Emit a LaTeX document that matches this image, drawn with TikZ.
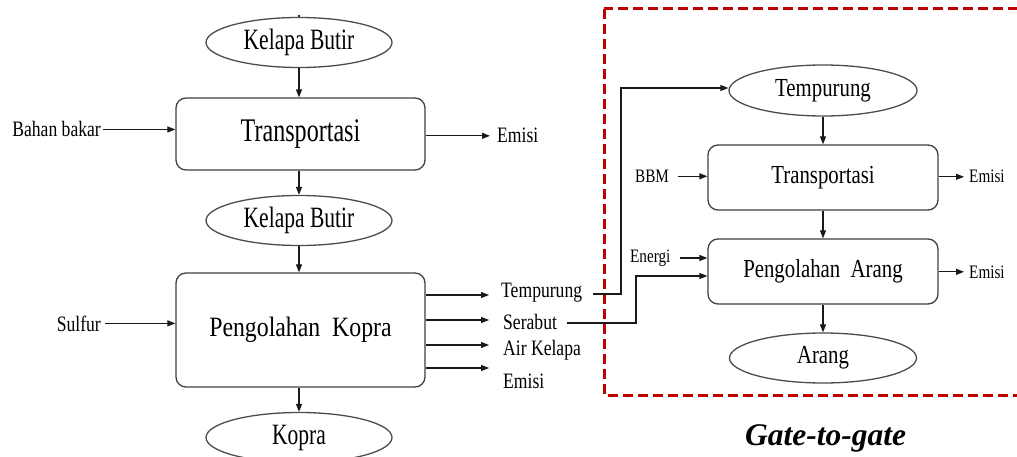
\documentclass[tikz,border=0pt]{standalone}
\usepackage{fontspec}
\setmainfont{Liberation Serif}
\newfontfamily\fA[FakeStretch=0.73]{Liberation Serif}
\newfontfamily\fB[FakeStretch=0.8]{Liberation Serif}
\newfontfamily\fC[FakeStretch=0.85]{Liberation Serif}
\usetikzlibrary{shapes.geometric,arrows.meta,calc}
\definecolor{gatered}{HTML}{C00000}
\tikzset{
  line/.style={draw=black!90, line width=1.2pt},
  arr/.style={line, -{Triangle[length=8pt,width=6pt]}},
  oval/.style={ellipse, draw=black!70, line width=1.3pt, inner sep=0pt,
    minimum width=186pt, minimum height=50pt, text=black},
  proc/.style={rectangle, rounded corners=10pt, draw=black!75, line width=1.3pt,
    inner sep=0pt, text=black},
  bigA/.style={font=\fA\fontsize{29.5}{31}\selectfont},
  bigT/.style={font=\fA\fontsize{33}{35}\selectfont},
  bigP/.style={font=\fC\fontsize{28}{30}\selectfont},
  rbig/.style={font=\fB\fontsize{26}{28}\selectfont},
  lbl/.style={inner sep=0pt, text=black, font=\fB\fontsize{22}{24}\selectfont},
  slbl/.style={inner sep=0pt, text=black, font=\fB\fontsize{19}{21}\selectfont},
}
\begin{document}
\begin{tikzpicture}[x=1pt,y=-1pt]
\clip (0,0) rectangle (1017,457);
\fill[white] (0,0) rectangle (1017,457);

% ---------- left column ----------
\fill[black!85] (299,16) circle (1.3pt);
\node[oval, bigA] (e1) at (299,42.5) {Kelapa Butir};
\node[proc, bigT, minimum width=249pt, minimum height=72pt] (b1) at (300.5,134) {Transportasi};
\node[oval, bigA] (e2) at (299,220.5) {Kelapa Butir};
\node[proc, bigP, minimum width=249pt, minimum height=114pt] (b2) at (300.5,330) {Pengolahan\ \ Kopra};
\node[oval, bigA] (e3) at (299,437.5) {Kopra};

\draw[arr] (e1.south) -- (e1.south |- b1.north);
\draw[arr] (e1.south |- b1.south) -- (e2.north);
\draw[arr] (e2.south) -- (e2.south |- b2.north);
\draw[arr] (e2.south |- b2.south) -- (e3.north);

\node[lbl, anchor=base east] (bb) at (101,137) {Bahan bakar};
\draw[arr] ([xshift=2pt]bb.east) -- (bb.east -| b1.west);
\node[lbl, anchor=base west] (em1) at (497,143) {Emisi};
\draw[arr] (b1.east |- em1.west) -- ([xshift=-7pt]em1.west);

\node[lbl, anchor=base east] (su) at (101,331) {Sulfur};
\draw[arr] ([xshift=4pt]su.east) -- (su.east -| b2.west);

\node[lbl, anchor=base west] (o1) at (501,297) {Tempurung};
\node[lbl, anchor=base west] (o2) at (503,329) {Serabut};
\node[lbl, anchor=base west] (o3) at (503,355) {Air Kelapa};
\node[lbl, anchor=base west] (o4) at (503,388) {Emisi};
\coordinate (t1) at (489,295);
\coordinate (t2) at (489,320);
\coordinate (t3) at (489,345);
\coordinate (t4) at (489,368);
\draw[arr] (b2.east |- t1) -- (t1);
\draw[arr] (b2.east |- t2) -- (t2);
\draw[arr] (b2.east |- t3) -- (t3);
\draw[arr] (b2.east |- t4) -- (t4);

% ---------- gate-to-gate ----------
\draw[gatered, line width=3pt, dash pattern=on 10pt off 5pt] (604,9) rectangle (1040,395);

\node[oval, rbig, minimum width=188pt, minimum height=51pt] (tp) at (823,90.5) {Tempurung};
\node[proc, rbig, minimum width=230pt, minimum height=65pt] (b3) at (823,177.5) {Transportasi};
\node[proc, rbig, minimum width=230pt, minimum height=65pt] (b4) at (823,271.5) {Pengolahan\ \ Arang};
\node[oval, rbig, minimum width=187pt, minimum height=50pt] (ar) at (823,358) {Arang};

\draw[arr] (tp.south) -- (b3.north);
\draw[arr] (b3.south) -- (b4.north);
\draw[arr] (b4.south) -- (ar.north);

\node[slbl, anchor=base west] (bbm) at (635,182.5) {BBM};
\draw[arr] ([xshift=9pt]bbm.east) -- (bbm.east -| b3.west);
\node[slbl, anchor=base west] (en) at (630,262) {Energi};
\coordinate (enx) at (680,258);
\draw[arr] (enx) -- (enx -| b4.west);

\node[slbl, anchor=base west] (em3) at (969,183) {Emisi};
\draw[arr] (b3.east |- em3.west) -- ([xshift=-5pt]em3.west);
\node[slbl, anchor=base west] (em4) at (969,278) {Emisi};
\draw[arr] (b4.east |- em4.west) -- ([xshift=-5pt]em4.west);

% cross connectors
\coordinate (k1) at (621,88);
\draw[arr] ($(o1.base east)+(11,-3)$) -| (k1) -- (k1 -| tp.west);
\coordinate (k2) at (636,276);
\draw[arr] ($(o2.base east)+(10,-6)$) -| (k2) -- (k2 -| b4.west);

\node[font=\bfseries\itshape\fontsize{31.5}{33}\selectfont, anchor=base, text=black] (gtg) at (825.5,445) {Gate-to-gate};
\end{tikzpicture}
\end{document}
